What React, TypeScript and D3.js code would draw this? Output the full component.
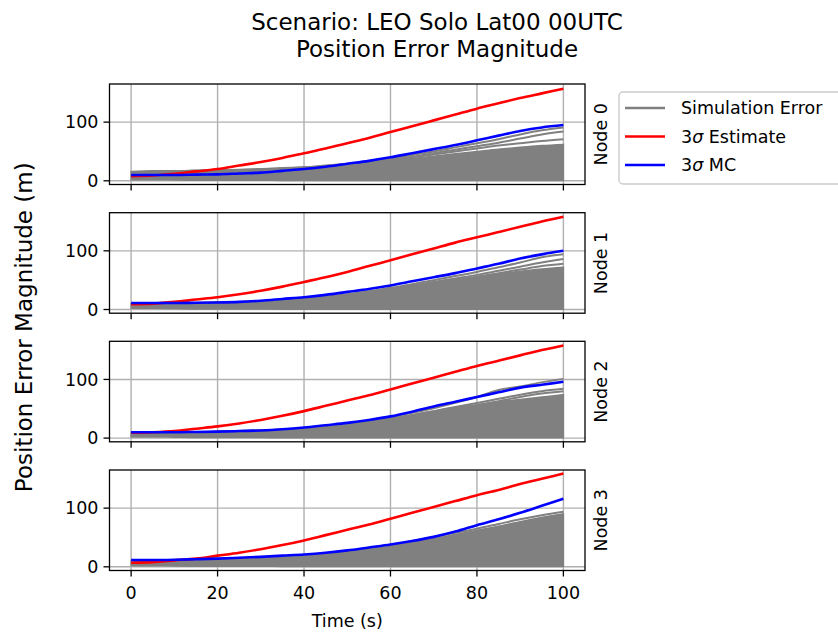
import React from 'react';
import * as d3 from 'd3';

// time samples (s)
const time = [0, 5, 10, 15, 20, 25, 30, 35, 40, 45, 50, 55, 60, 65, 70, 75, 80, 85, 90, 95, 100];
const nodeLabels = ['Node 0', 'Node 1', 'Node 2', 'Node 3'];
const xTicks = [0, 20, 40, 60, 80, 100];
const yTicks = [0, 100];

// 3-sigma from the filter estimate
const est0 = [8, 9, 12, 16, 20, 26, 32, 39, 47, 55, 64, 73, 83, 93, 103, 113, 123, 132, 141, 149, 157];
const est1 = [9, 10, 13, 17, 21, 26, 32, 39, 47, 55, 64, 74, 84, 94, 104, 114, 123, 132, 141, 150, 158];
const est2 = [9, 10, 12, 16, 20, 25, 31, 38, 46, 55, 64, 73, 83, 93, 103, 113, 123, 132, 141, 150, 158];
const est3 = [7, 8, 11, 14, 19, 24, 30, 37, 45, 54, 63, 72, 82, 92, 102, 112, 122, 131, 141, 150, 159];

// 3-sigma from the Monte Carlo runs
const mc0 = [10, 10, 10, 10.5, 11, 12.5, 14, 17, 20, 24, 29, 34, 40, 47, 54, 61, 69, 77, 85, 91, 95];
const mc1 = [11, 11, 11, 11.5, 12, 13, 15, 18, 21, 25, 30, 35, 41, 48, 55, 62, 70, 78, 87, 94, 100];
const mc2 = [10, 10, 10, 10.5, 11, 12, 13, 15, 18, 22, 26, 31, 37, 45, 54, 62, 70, 78, 86, 91, 96];
const mc3 = [11.5, 11.5, 12, 13, 14, 15.5, 17, 19, 21, 24, 28, 33, 38, 44, 51, 60, 71, 81, 92, 104, 116];

// bulk of the simulation runs (lower / upper edge of the dense gray mass)
const runsLow = [2, 2, 1.5, 1, 1, 1, 1, 0.5, 0.5, 0.5, 0.5, 0.5, 0.5, 0.5, 0.5, 0.5, 0.5, 0.5, 0.5, 0.5, 0.5];
const runsHigh0 = [16, 17, 17, 18, 19, 19, 20, 21, 22, 24, 26, 29, 34, 38, 42, 46, 50, 54, 57, 60, 62];
const runsHigh1 = [10, 10, 11, 11, 12, 13, 14, 16, 18, 21, 25, 30, 35, 40, 46, 51, 56, 61, 65, 69, 72];
const runsHigh2 = [10, 10, 10, 10, 11, 12, 13, 15, 17, 20, 24, 29, 34, 40, 46, 52, 57, 62, 66, 70, 74];
const runsHigh3 = [10, 10, 11, 12, 13, 14, 15, 17, 19, 22, 26, 31, 36, 42, 48, 55, 62, 69, 77, 84, 90];

// individual runs that stick out above the bulk
const run0a = [14, 15, 16, 17, 18, 19, 20, 22, 23, 26, 29, 33, 38, 44, 50, 57, 64, 71, 79, 86, 91];
const run0b = [12, 13, 14, 15, 16, 17, 18, 20, 22, 25, 28, 32, 36, 41, 47, 53, 59, 65, 72, 79, 84];
const run0c = [13, 14, 15, 16, 17, 18, 19, 21, 23, 25, 28, 31, 35, 40, 45, 50, 55, 60, 64, 68, 71];
const run1a = [9, 10, 10, 11, 12, 13, 14, 16, 19, 22, 26, 31, 37, 43, 50, 57, 64, 72, 80, 89, 94];
const run1b = [9, 10, 10, 11, 12, 13, 14, 16, 18, 21, 25, 30, 35, 41, 47, 53, 59, 66, 73, 80, 86];
const run1c = [9, 9, 10, 10, 11, 12, 13, 15, 17, 20, 24, 28, 33, 38, 44, 50, 56, 62, 68, 74, 78];
const run2a = [9, 9, 10, 10, 11, 12, 13, 15, 17, 21, 25, 30, 36, 43, 51, 60, 70, 82, 88, 95, 101];
const run2b = [9, 9, 10, 10, 11, 12, 13, 14, 16, 19, 23, 28, 33, 39, 46, 53, 60, 67, 74, 80, 84];
const run2c = [9, 9, 10, 10, 11, 12, 13, 14, 16, 19, 22, 27, 32, 37, 43, 49, 56, 63, 70, 76, 80];
const run3a = [10, 10, 11, 12, 13, 14, 15, 17, 19, 22, 26, 31, 37, 44, 51, 58, 65, 73, 81, 88, 94];
const run3b = [10, 10, 11, 12, 13, 14, 15, 17, 19, 22, 26, 30, 35, 41, 47, 54, 61, 68, 75, 83, 89];
const run3c = [10, 10, 11, 12, 13, 14, 15, 16, 18, 21, 25, 29, 34, 40, 46, 52, 58, 64, 71, 78, 85];

const estimates = [est0, est1, est2, est3];
const mcs = [mc0, mc1, mc2, mc3];
const runsHigh = [runsHigh0, runsHigh1, runsHigh2, runsHigh3];
const outliers = [
  [run0a, run0b, run0c],
  [run1a, run1b, run1c],
  [run2a, run2b, run2c],
  [run3a, run3b, run3c],
];

const W = 838;
const H = 635;
const left = 109.5;
const right = 585;
const panelTops = [84, 212.7, 341.3, 470];
const panelH = 100.5;
const font = 'DejaVu Sans, sans-serif';

const x = d3.scaleLinear().domain([-5, 105]).range([left, right]);

const Panel = ({ i }: { i: number }) => {
  const top = panelTops[i];
  const y = d3.scaleLinear().domain([-6.3, 165]).range([top + panelH, top]);
  const line = d3
    .line<number>()
    .x((_, k) => x(time[k]))
    .y((d) => y(d))
    .curve(d3.curveMonotoneX);
  const band = d3
    .area<number>()
    .x((_, k) => x(time[k]))
    .y0((_, k) => y(runsLow[k]))
    .y1((d) => y(d))
    .curve(d3.curveMonotoneX);
  const last = i === 3;
  const clipId = `clip${i}`;

  return (
    <g>
      <defs>
        <clipPath id={clipId}>
          <rect x={left} y={top} width={right - left} height={panelH} />
        </clipPath>
      </defs>
      {/* grid */}
      {xTicks.map((t) => (
        <line key={'gx' + t} x1={x(t)} x2={x(t)} y1={top} y2={top + panelH} stroke="#b0b0b0" strokeWidth={1.4} />
      ))}
      {yTicks.map((t) => (
        <line key={'gy' + t} x1={left} x2={right} y1={y(t)} y2={y(t)} stroke="#b0b0b0" strokeWidth={1.4} />
      ))}
      <g clipPath={`url(#${clipId})`}>
        <path d={band(runsHigh[i]) || ''} fill="#808080" stroke="#808080" strokeWidth={1.5} />
        {outliers[i].map((r, k) => (
          <path key={k} d={line(r) || ''} fill="none" stroke="#808080" strokeWidth={2} />
        ))}
        <path d={line(estimates[i]) || ''} fill="none" stroke="#ff0000" strokeWidth={2.6} />
        <path d={line(mcs[i]) || ''} fill="none" stroke="#0000ff" strokeWidth={2.6} />
      </g>
      {/* frame */}
      <rect x={left} y={top} width={right - left} height={panelH} fill="none" stroke="#000" strokeWidth={1.3} />
      {/* y ticks */}
      {yTicks.map((t) => (
        <g key={'ty' + t}>
          <line x1={left - 6} x2={left} y1={y(t)} y2={y(t)} stroke="#000" strokeWidth={1.3} />
          <text x={left - 11} y={y(t)} dy="0.36em" textAnchor="end" fontSize={17.5} fontFamily={font}>
            {t}
          </text>
        </g>
      ))}
      {/* x ticks */}
      {xTicks.map((t) => (
        <g key={'tx' + t}>
          <line x1={x(t)} x2={x(t)} y1={top + panelH} y2={top + panelH + 6} stroke="#000" strokeWidth={1.3} />
          {last && (
            <text x={x(t)} y={top + panelH + 28} textAnchor="middle" fontSize={17.5} fontFamily={font}>
              {t}
            </text>
          )}
        </g>
      ))}
      {/* node label on the right */}
      <text
        transform={`translate(${right + 22},${top + panelH / 2}) rotate(-90)`}
        textAnchor="middle"
        fontSize={17.5}
        fontFamily={font}
      >
        {nodeLabels[i]}
      </text>
    </g>
  );
};

const legendItems = [
  { label: 'Simulation Error', color: '#808080', sigma: false },
  { label: ' Estimate', color: '#ff0000', sigma: true },
  { label: ' MC', color: '#0000ff', sigma: true },
];

const App = () => {
  return (
    <svg
      width={W}
      height={H}
      style={{ position: 'absolute', left: 0, top: 0, background: '#fff' }}
      fontFamily={font}
    >
      <rect width={W} height={H} fill="#fff" />
      <text x={437} y={30} textAnchor="middle" fontSize={23} fontFamily={font}>
        Scenario: LEO Solo Lat00 00UTC
      </text>
      <text x={437} y={57} textAnchor="middle" fontSize={23} fontFamily={font}>
        Position Error Magnitude
      </text>
      {panelTops.map((_, i) => (
        <Panel key={i} i={i} />
      ))}
      <text x={(left + right) / 2} y={627} textAnchor="middle" fontSize={17.5} fontFamily={font}>
        Time (s)
      </text>
      <text
        transform={`translate(32,${(panelTops[0] + panelTops[3] + panelH) / 2}) rotate(-90)`}
        textAnchor="middle"
        fontSize={23}
        fontFamily={font}
      >
        Position Error Magnitude (m)
      </text>
      {/* legend */}
      <g>
        <rect x={619} y={92} width={240} height={92} rx={4} fill="#fff" stroke="#cccccc" strokeWidth={1.4} />
        {legendItems.map((d, k) => {
          const cy = 108 + k * 28.5;
          return (
            <g key={d.label}>
              <line x1={625} x2={665} y1={cy} y2={cy} stroke={d.color} strokeWidth={2.6} />
              <text x={681} y={cy} dy="0.36em" fontSize={17.5} fontFamily={font}>
                {d.sigma && (
                  <>
                    <tspan>3</tspan>
                    <tspan fontStyle="italic">σ</tspan>
                  </>
                )}
                <tspan>{d.label}</tspan>
              </text>
            </g>
          );
        })}
      </g>
    </svg>
  );
};

export default App;
